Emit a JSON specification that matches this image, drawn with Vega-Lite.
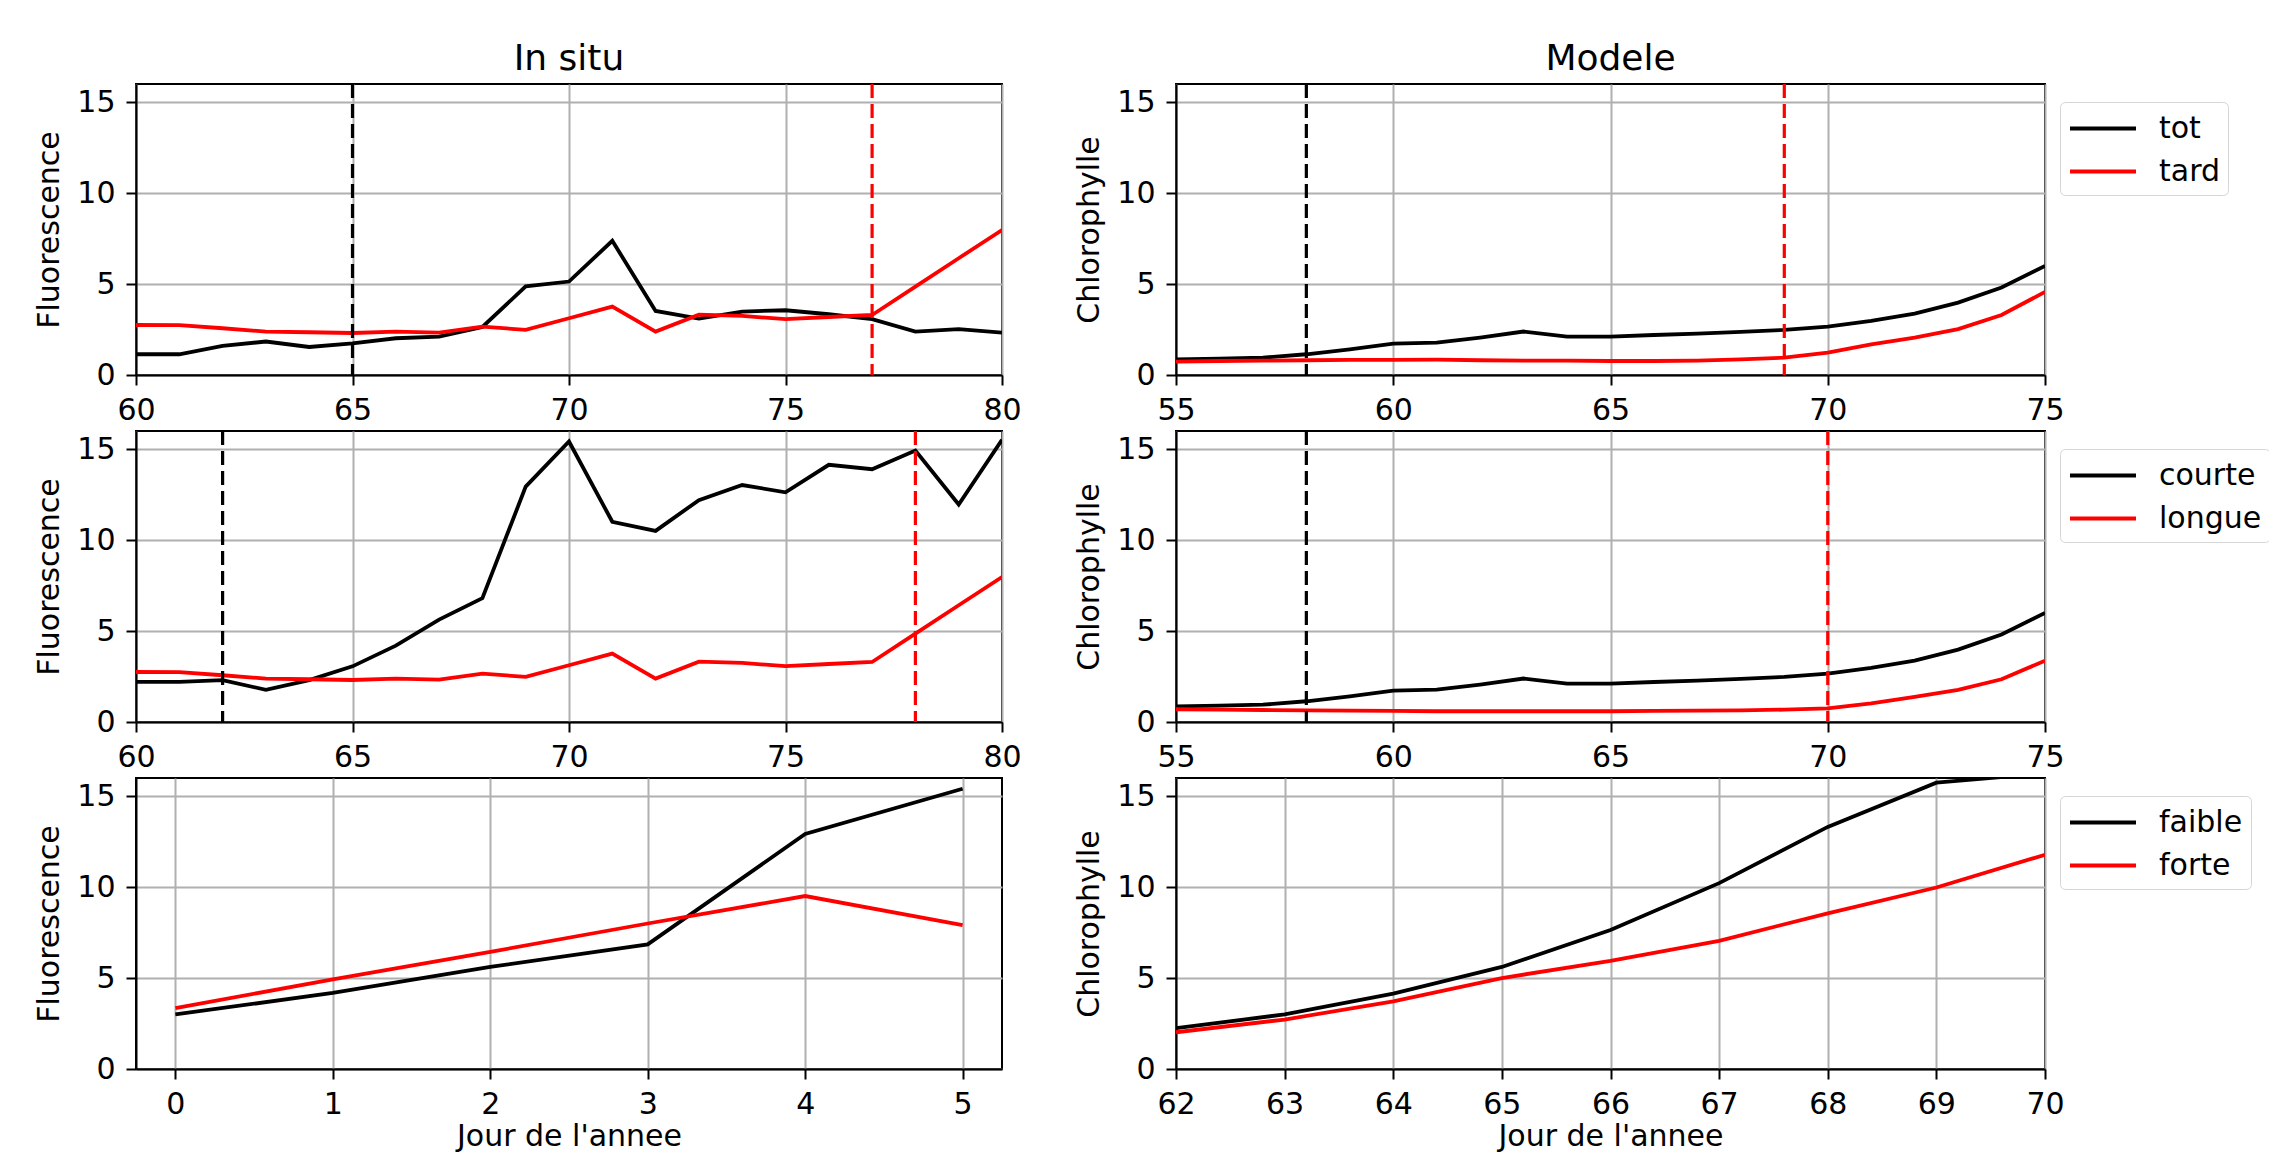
{
  "$schema": "https://vega.github.io/schema/vega-lite/v6.json",
  "background": "white",
  "padding": {"left": 33, "top": 40, "right": 0, "bottom": 0},
  "config": {
    "font": "DejaVu Sans",
    "view": {"stroke": "black", "strokeWidth": 2},
    "axis": {"domainColor": "black", "domainWidth": 2, "tickColor": "black", "tickWidth": 2, "tickSize": 10, "labelPadding": 10, "labelFontSize": 30, "labelFont": "DejaVu Sans", "labelColor": "black", "titleFontSize": 30, "titleFont": "DejaVu Sans", "titleFontWeight": "normal", "titleColor": "black", "gridColor": "#b0b0b0", "gridWidth": 2, "gridOpacity": 1, "labelFlush": false, "labelOverlap": false, "labelBound": false},
    "axisY": {"titlePadding": 12, "labelPadding": 11},
    "axisX": {"titlePadding": 2},
    "title": {"fontSize": 36, "font": "DejaVu Sans", "fontWeight": "normal", "color": "black", "offset": 4, "baseline": "alphabetic", "anchor": "middle"},
    "legend": {"strokeColor": "#d6d6d6", "fillColor": "white", "cornerRadius": 5, "padding": 8, "labelFontSize": 30, "labelFont": "DejaVu Sans", "labelColor": "black", "symbolType": "M-1,0H3", "symbolStrokeWidth": 3.8, "symbolSize": 1089, "labelOffset": 54, "rowPadding": 9, "symbolOpacity": 1}
  },
  "columns": 2,
  "bounds": "flush",
  "spacing": {"row": 56, "column": 174},
  "resolve": {"scale": {"color": "independent"}, "legend": {"color": "independent"}},
  "datasets": {
    "a": [
      {"jour": 60, "serie": "tot", "valeur": 1.14}, {"jour": 61, "serie": "tot", "valeur": 1.14}, {"jour": 62, "serie": "tot", "valeur": 1.6}, {"jour": 63, "serie": "tot", "valeur": 1.84}, {"jour": 64, "serie": "tot", "valeur": 1.54}, {"jour": 65, "serie": "tot", "valeur": 1.74}, {"jour": 66, "serie": "tot", "valeur": 2.02}, {"jour": 67, "serie": "tot", "valeur": 2.11}, {"jour": 68, "serie": "tot", "valeur": 2.64}, {"jour": 69, "serie": "tot", "valeur": 4.87}, {"jour": 70, "serie": "tot", "valeur": 5.14}, {"jour": 71, "serie": "tot", "valeur": 7.38}, {"jour": 72, "serie": "tot", "valeur": 3.52}, {"jour": 73, "serie": "tot", "valeur": 3.1}, {"jour": 74, "serie": "tot", "valeur": 3.49}, {"jour": 75, "serie": "tot", "valeur": 3.56}, {"jour": 76, "serie": "tot", "valeur": 3.34}, {"jour": 77, "serie": "tot", "valeur": 3.07}, {"jour": 78, "serie": "tot", "valeur": 2.39}, {"jour": 79, "serie": "tot", "valeur": 2.52}, {"jour": 80, "serie": "tot", "valeur": 2.33},
      {"jour": 60, "serie": "tard", "valeur": 2.75}, {"jour": 61, "serie": "tard", "valeur": 2.74}, {"jour": 62, "serie": "tard", "valeur": 2.57}, {"jour": 63, "serie": "tard", "valeur": 2.39}, {"jour": 64, "serie": "tard", "valeur": 2.35}, {"jour": 65, "serie": "tard", "valeur": 2.31}, {"jour": 66, "serie": "tard", "valeur": 2.39}, {"jour": 67, "serie": "tard", "valeur": 2.33}, {"jour": 68, "serie": "tard", "valeur": 2.66}, {"jour": 69, "serie": "tard", "valeur": 2.48}, {"jour": 70, "serie": "tard", "valeur": 3.12}, {"jour": 71, "serie": "tard", "valeur": 3.76}, {"jour": 72, "serie": "tard", "valeur": 2.39}, {"jour": 73, "serie": "tard", "valeur": 3.32}, {"jour": 74, "serie": "tard", "valeur": 3.25}, {"jour": 75, "serie": "tard", "valeur": 3.07}, {"jour": 76, "serie": "tard", "valeur": 3.19}, {"jour": 77, "serie": "tard", "valeur": 3.3}, {"jour": 78, "serie": "tard", "valeur": 4.86}, {"jour": 79, "serie": "tard", "valeur": 6.42}, {"jour": 80, "serie": "tard", "valeur": 7.97}
    ],
    "b": [
      {"jour": 55, "serie": "tot", "valeur": 0.86}, {"jour": 56, "serie": "tot", "valeur": 0.9}, {"jour": 57, "serie": "tot", "valeur": 0.95}, {"jour": 58, "serie": "tot", "valeur": 1.14}, {"jour": 59, "serie": "tot", "valeur": 1.41}, {"jour": 60, "serie": "tot", "valeur": 1.73}, {"jour": 61, "serie": "tot", "valeur": 1.78}, {"jour": 62, "serie": "tot", "valeur": 2.06}, {"jour": 63, "serie": "tot", "valeur": 2.39}, {"jour": 64, "serie": "tot", "valeur": 2.11}, {"jour": 65, "serie": "tot", "valeur": 2.11}, {"jour": 66, "serie": "tot", "valeur": 2.2}, {"jour": 67, "serie": "tot", "valeur": 2.28}, {"jour": 68, "serie": "tot", "valeur": 2.37}, {"jour": 69, "serie": "tot", "valeur": 2.48}, {"jour": 70, "serie": "tot", "valeur": 2.66}, {"jour": 71, "serie": "tot", "valeur": 2.97}, {"jour": 72, "serie": "tot", "valeur": 3.38}, {"jour": 73, "serie": "tot", "valeur": 3.98}, {"jour": 74, "serie": "tot", "valeur": 4.81}, {"jour": 75, "serie": "tot", "valeur": 6.0},
      {"jour": 55, "serie": "tard", "valeur": 0.73}, {"jour": 56, "serie": "tard", "valeur": 0.77}, {"jour": 57, "serie": "tard", "valeur": 0.79}, {"jour": 58, "serie": "tard", "valeur": 0.81}, {"jour": 59, "serie": "tard", "valeur": 0.83}, {"jour": 60, "serie": "tard", "valeur": 0.83}, {"jour": 61, "serie": "tard", "valeur": 0.84}, {"jour": 62, "serie": "tard", "valeur": 0.81}, {"jour": 63, "serie": "tard", "valeur": 0.79}, {"jour": 64, "serie": "tard", "valeur": 0.79}, {"jour": 65, "serie": "tard", "valeur": 0.77}, {"jour": 66, "serie": "tard", "valeur": 0.77}, {"jour": 67, "serie": "tard", "valeur": 0.79}, {"jour": 68, "serie": "tard", "valeur": 0.86}, {"jour": 69, "serie": "tard", "valeur": 0.95}, {"jour": 70, "serie": "tard", "valeur": 1.23}, {"jour": 71, "serie": "tard", "valeur": 1.69}, {"jour": 72, "serie": "tard", "valeur": 2.06}, {"jour": 73, "serie": "tard", "valeur": 2.52}, {"jour": 74, "serie": "tard", "valeur": 3.3}, {"jour": 75, "serie": "tard", "valeur": 4.57}
    ],
    "c": [
      {"jour": 60, "serie": "courte", "valeur": 2.21}, {"jour": 61, "serie": "courte", "valeur": 2.21}, {"jour": 62, "serie": "courte", "valeur": 2.3}, {"jour": 63, "serie": "courte", "valeur": 1.77}, {"jour": 64, "serie": "courte", "valeur": 2.3}, {"jour": 65, "serie": "courte", "valeur": 3.06}, {"jour": 66, "serie": "courte", "valeur": 4.2}, {"jour": 67, "serie": "courte", "valeur": 5.63}, {"jour": 68, "serie": "courte", "valeur": 6.81}, {"jour": 69, "serie": "courte", "valeur": 12.94}, {"jour": 70, "serie": "courte", "valeur": 15.42}, {"jour": 71, "serie": "courte", "valeur": 11.01}, {"jour": 72, "serie": "courte", "valeur": 10.51}, {"jour": 73, "serie": "courte", "valeur": 12.2}, {"jour": 74, "serie": "courte", "valeur": 13.03}, {"jour": 75, "serie": "courte", "valeur": 12.63}, {"jour": 76, "serie": "courte", "valeur": 14.14}, {"jour": 77, "serie": "courte", "valeur": 13.9}, {"jour": 78, "serie": "courte", "valeur": 14.93}, {"jour": 79, "serie": "courte", "valeur": 11.96}, {"jour": 80, "serie": "courte", "valeur": 15.52},
      {"jour": 60, "serie": "longue", "valeur": 2.75}, {"jour": 61, "serie": "longue", "valeur": 2.74}, {"jour": 62, "serie": "longue", "valeur": 2.57}, {"jour": 63, "serie": "longue", "valeur": 2.39}, {"jour": 64, "serie": "longue", "valeur": 2.35}, {"jour": 65, "serie": "longue", "valeur": 2.31}, {"jour": 66, "serie": "longue", "valeur": 2.39}, {"jour": 67, "serie": "longue", "valeur": 2.33}, {"jour": 68, "serie": "longue", "valeur": 2.66}, {"jour": 69, "serie": "longue", "valeur": 2.48}, {"jour": 70, "serie": "longue", "valeur": 3.12}, {"jour": 71, "serie": "longue", "valeur": 3.76}, {"jour": 72, "serie": "longue", "valeur": 2.39}, {"jour": 73, "serie": "longue", "valeur": 3.32}, {"jour": 74, "serie": "longue", "valeur": 3.25}, {"jour": 75, "serie": "longue", "valeur": 3.07}, {"jour": 76, "serie": "longue", "valeur": 3.19}, {"jour": 77, "serie": "longue", "valeur": 3.3}, {"jour": 78, "serie": "longue", "valeur": 4.86}, {"jour": 79, "serie": "longue", "valeur": 6.42}, {"jour": 80, "serie": "longue", "valeur": 7.97}
    ],
    "d": [
      {"jour": 55, "serie": "courte", "valeur": 0.86}, {"jour": 56, "serie": "courte", "valeur": 0.9}, {"jour": 57, "serie": "courte", "valeur": 0.95}, {"jour": 58, "serie": "courte", "valeur": 1.14}, {"jour": 59, "serie": "courte", "valeur": 1.41}, {"jour": 60, "serie": "courte", "valeur": 1.73}, {"jour": 61, "serie": "courte", "valeur": 1.78}, {"jour": 62, "serie": "courte", "valeur": 2.06}, {"jour": 63, "serie": "courte", "valeur": 2.39}, {"jour": 64, "serie": "courte", "valeur": 2.11}, {"jour": 65, "serie": "courte", "valeur": 2.11}, {"jour": 66, "serie": "courte", "valeur": 2.2}, {"jour": 67, "serie": "courte", "valeur": 2.28}, {"jour": 68, "serie": "courte", "valeur": 2.37}, {"jour": 69, "serie": "courte", "valeur": 2.48}, {"jour": 70, "serie": "courte", "valeur": 2.66}, {"jour": 71, "serie": "courte", "valeur": 2.97}, {"jour": 72, "serie": "courte", "valeur": 3.38}, {"jour": 73, "serie": "courte", "valeur": 3.98}, {"jour": 74, "serie": "courte", "valeur": 4.81}, {"jour": 75, "serie": "courte", "valeur": 6.0},
      {"jour": 55, "serie": "longue", "valeur": 0.7}, {"jour": 56, "serie": "longue", "valeur": 0.68}, {"jour": 57, "serie": "longue", "valeur": 0.66}, {"jour": 58, "serie": "longue", "valeur": 0.64}, {"jour": 59, "serie": "longue", "valeur": 0.63}, {"jour": 60, "serie": "longue", "valeur": 0.61}, {"jour": 61, "serie": "longue", "valeur": 0.59}, {"jour": 62, "serie": "longue", "valeur": 0.59}, {"jour": 63, "serie": "longue", "valeur": 0.59}, {"jour": 64, "serie": "longue", "valeur": 0.59}, {"jour": 65, "serie": "longue", "valeur": 0.59}, {"jour": 66, "serie": "longue", "valeur": 0.61}, {"jour": 67, "serie": "longue", "valeur": 0.63}, {"jour": 68, "serie": "longue", "valeur": 0.64}, {"jour": 69, "serie": "longue", "valeur": 0.68}, {"jour": 70, "serie": "longue", "valeur": 0.75}, {"jour": 71, "serie": "longue", "valeur": 1.03}, {"jour": 72, "serie": "longue", "valeur": 1.38}, {"jour": 73, "serie": "longue", "valeur": 1.77}, {"jour": 74, "serie": "longue", "valeur": 2.35}, {"jour": 75, "serie": "longue", "valeur": 3.37}
    ],
    "e": [
      {"jour": 0, "serie": "faible", "valeur": 3.0}, {"jour": 1, "serie": "faible", "valeur": 4.18}, {"jour": 2, "serie": "faible", "valeur": 5.61}, {"jour": 3, "serie": "faible", "valeur": 6.85}, {"jour": 4, "serie": "faible", "valeur": 12.92}, {"jour": 5, "serie": "faible", "valeur": 15.41},
      {"jour": 0, "serie": "forte", "valeur": 3.35}, {"jour": 1, "serie": "forte", "valeur": 4.93}, {"jour": 2, "serie": "forte", "valeur": 6.44}, {"jour": 3, "serie": "forte", "valeur": 8.0}, {"jour": 4, "serie": "forte", "valeur": 9.51}, {"jour": 5, "serie": "forte", "valeur": 7.91}
    ],
    "f": [
      {"jour": 62, "serie": "faible", "valeur": 2.25}, {"jour": 63, "serie": "faible", "valeur": 3.0}, {"jour": 64, "serie": "faible", "valeur": 4.14}, {"jour": 65, "serie": "faible", "valeur": 5.61}, {"jour": 66, "serie": "faible", "valeur": 7.64}, {"jour": 67, "serie": "faible", "valeur": 10.22}, {"jour": 68, "serie": "faible", "valeur": 13.31}, {"jour": 69, "serie": "faible", "valeur": 15.74}, {"jour": 70, "serie": "faible", "valeur": 16.26},
      {"jour": 62, "serie": "forte", "valeur": 2.02}, {"jour": 63, "serie": "forte", "valeur": 2.72}, {"jour": 64, "serie": "forte", "valeur": 3.72}, {"jour": 65, "serie": "forte", "valeur": 5.0}, {"jour": 66, "serie": "forte", "valeur": 5.95}, {"jour": 67, "serie": "forte", "valeur": 7.05}, {"jour": 68, "serie": "forte", "valeur": 8.56}, {"jour": 69, "serie": "forte", "valeur": 9.98}, {"jour": 70, "serie": "forte", "valeur": 11.78}
    ],
    "ra": [{"jour": 65, "serie": "tot"}, {"jour": 77, "serie": "tard"}],
    "rb": [{"jour": 58, "serie": "tot"}, {"jour": 69, "serie": "tard"}],
    "rc": [{"jour": 62, "serie": "courte"}, {"jour": 78, "serie": "longue"}],
    "rd": [{"jour": 58, "serie": "courte"}, {"jour": 70, "serie": "longue"}]
  },
  "concat": [
    {
      "title": "In situ",
      "width": 866, "height": 291,
      "layer": [
        {"data": {"name": "a"}, "mark": {"type": "line", "strokeWidth": 3.8, "clip": true},
         "encoding": {
           "x": {"field": "jour", "type": "quantitative", "scale": {"domain": [60, 80], "nice": false, "zero": false}, "axis": {"values": [60, 65, 70, 75, 80], "title": null}},
           "y": {"field": "valeur", "type": "quantitative", "scale": {"domain": [0, 16], "nice": false}, "axis": {"values": [0, 5, 10, 15], "title": "Fluorescence"}},
           "color": {"field": "serie", "type": "nominal", "scale": {"domain": ["tot", "tard"], "range": ["#000000", "#ff0000"]}, "legend": null}}},
        {"data": {"name": "ra"}, "mark": {"type": "rule", "strokeDash": [14, 6], "strokeWidth": 3.2},
         "encoding": {"x": {"field": "jour", "type": "quantitative"}, "color": {"field": "serie", "type": "nominal"}}}
      ]
    },
    {
      "title": "Modele",
      "width": 869, "height": 291,
      "layer": [
        {"data": {"name": "b"}, "mark": {"type": "line", "strokeWidth": 3.8, "clip": true},
         "encoding": {
           "x": {"field": "jour", "type": "quantitative", "scale": {"domain": [55, 75], "nice": false, "zero": false}, "axis": {"values": [55, 60, 65, 70, 75], "title": null}},
           "y": {"field": "valeur", "type": "quantitative", "scale": {"domain": [0, 16], "nice": false}, "axis": {"values": [0, 5, 10, 15], "title": "Chlorophylle"}},
           "color": {"field": "serie", "type": "nominal", "scale": {"domain": ["tot", "tard"], "range": ["#000000", "#ff0000"]}, "legend": {"orient": "none", "legendX": 884, "legendY": 18, "title": null}}}},
        {"data": {"name": "rb"}, "mark": {"type": "rule", "strokeDash": [14, 6], "strokeWidth": 3.2},
         "encoding": {"x": {"field": "jour", "type": "quantitative"}, "color": {"field": "serie", "type": "nominal"}}}
      ]
    },
    {
      "width": 866, "height": 291,
      "layer": [
        {"data": {"name": "c"}, "mark": {"type": "line", "strokeWidth": 3.8, "clip": true},
         "encoding": {
           "x": {"field": "jour", "type": "quantitative", "scale": {"domain": [60, 80], "nice": false, "zero": false}, "axis": {"values": [60, 65, 70, 75, 80], "title": null}},
           "y": {"field": "valeur", "type": "quantitative", "scale": {"domain": [0, 16], "nice": false}, "axis": {"values": [0, 5, 10, 15], "title": "Fluorescence"}},
           "color": {"field": "serie", "type": "nominal", "scale": {"domain": ["courte", "longue"], "range": ["#000000", "#ff0000"]}, "legend": null}}},
        {"data": {"name": "rc"}, "mark": {"type": "rule", "strokeDash": [14, 6], "strokeWidth": 3.2},
         "encoding": {"x": {"field": "jour", "type": "quantitative"}, "color": {"field": "serie", "type": "nominal"}}}
      ]
    },
    {
      "width": 869, "height": 291,
      "layer": [
        {"data": {"name": "d"}, "mark": {"type": "line", "strokeWidth": 3.8, "clip": true},
         "encoding": {
           "x": {"field": "jour", "type": "quantitative", "scale": {"domain": [55, 75], "nice": false, "zero": false}, "axis": {"values": [55, 60, 65, 70, 75], "title": null}},
           "y": {"field": "valeur", "type": "quantitative", "scale": {"domain": [0, 16], "nice": false}, "axis": {"values": [0, 5, 10, 15], "title": "Chlorophylle"}},
           "color": {"field": "serie", "type": "nominal", "scale": {"domain": ["courte", "longue"], "range": ["#000000", "#ff0000"]}, "legend": {"orient": "none", "legendX": 884, "legendY": 18, "title": null}}}},
        {"data": {"name": "rd"}, "mark": {"type": "rule", "strokeDash": [14, 6], "strokeWidth": 3.2},
         "encoding": {"x": {"field": "jour", "type": "quantitative"}, "color": {"field": "serie", "type": "nominal"}}}
      ]
    },
    {
      "width": 866, "height": 291,
      "data": {"name": "e"},
      "mark": {"type": "line", "strokeWidth": 3.8, "clip": true},
      "encoding": {
        "x": {"field": "jour", "type": "quantitative", "scale": {"domain": [-0.25, 5.25], "nice": false, "zero": false}, "axis": {"values": [0, 1, 2, 3, 4, 5], "title": "Jour de l'annee"}},
        "y": {"field": "valeur", "type": "quantitative", "scale": {"domain": [0, 16], "nice": false}, "axis": {"values": [0, 5, 10, 15], "title": "Fluorescence"}},
        "color": {"field": "serie", "type": "nominal", "scale": {"domain": ["faible", "forte"], "range": ["#000000", "#ff0000"]}, "legend": null}}
    },
    {
      "width": 869, "height": 291,
      "data": {"name": "f"},
      "mark": {"type": "line", "strokeWidth": 3.8, "clip": true},
      "encoding": {
        "x": {"field": "jour", "type": "quantitative", "scale": {"domain": [62, 70], "nice": false, "zero": false}, "axis": {"values": [62, 63, 64, 65, 66, 67, 68, 69, 70], "title": "Jour de l'annee"}},
        "y": {"field": "valeur", "type": "quantitative", "scale": {"domain": [0, 16], "nice": false}, "axis": {"values": [0, 5, 10, 15], "title": "Chlorophylle"}},
        "color": {"field": "serie", "type": "nominal", "scale": {"domain": ["faible", "forte"], "range": ["#000000", "#ff0000"]}, "legend": {"orient": "none", "legendX": 884, "legendY": 18, "title": null}}}
    }
  ]
}
